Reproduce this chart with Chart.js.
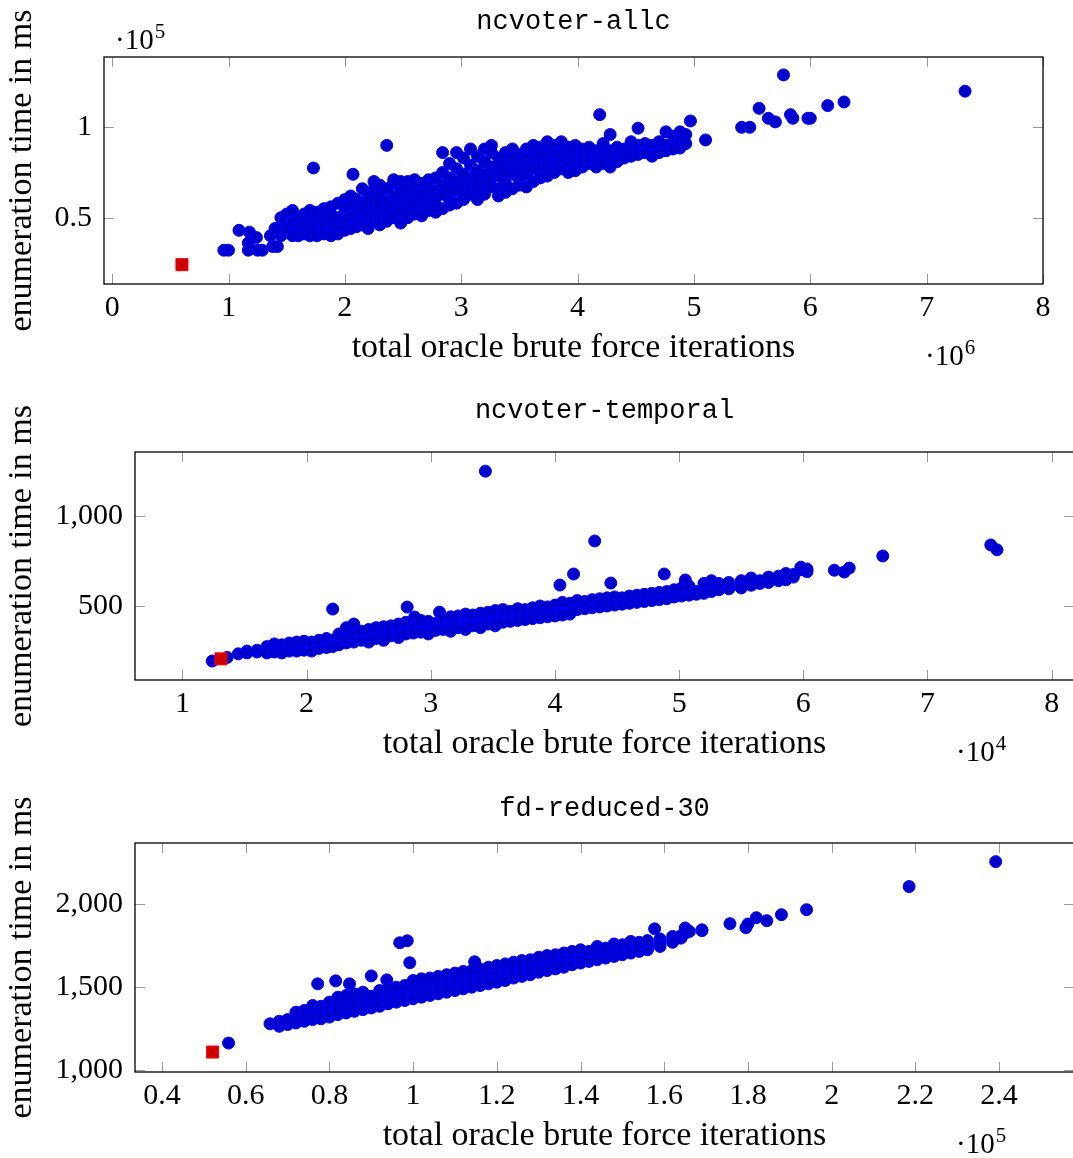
<!DOCTYPE html>
<html>
<head>
<meta charset="utf-8">
<script src="https://cdn.jsdelivr.net/npm/chart.js@4.4.1/dist/chart.umd.min.js"></script>
<style>
  html, body { margin: 0; padding: 0; background: #fff; width: 1073px; height: 1158px; overflow: hidden; position: relative; }
  canvas { position: absolute; left: 0; }
</style>
</head>
<body>
<canvas id="allc"></canvas>
<canvas id="temporal"></canvas>
<canvas id="fd30"></canvas>
<script>
// ---- ncvoter-allc : x in 10^6 iterations, y in 10^5 ms ----
const allcXTicks = [0, 1, 2, 3, 4, 5, 6, 7, 8];
const allcYTicks = [0.5, 1];
const allcRed = [[0.60, 0.24]];
const allcPoints = [
  [0.96,0.32],[1.00,0.32],[1.09,0.43],[1.18,0.42],[1.24,0.39],[1.17,0.36],[1.17,0.32],[1.25,0.32],[1.29,0.32],
  [1.36,0.40],[1.40,0.44],[1.38,0.34],[1.42,0.34],
  [1.45,0.40],[1.45,0.45],[1.45,0.50],[1.50,0.45],[1.50,0.42],[1.50,0.52],[1.55,0.54],[1.55,0.47],[1.55,0.40],
  [1.60,0.49],[1.60,0.44],[1.60,0.40],[1.65,0.46],[1.65,0.52],[1.65,0.41],[1.70,0.44],[1.70,0.50],[1.70,0.54],[1.70,0.40],
  [1.73,0.775],
  [1.76,0.53],[1.76,0.47],[1.76,0.43],[1.76,0.40],[1.82,0.51],[1.82,0.45],[1.82,0.55],[1.82,0.41],
  [1.88,0.48],[1.88,0.56],[1.88,0.43],[1.88,0.52],[1.88,0.40],[1.94,0.50],[1.94,0.45],[1.94,0.58],[1.94,0.41],
  [2.00,0.53],[2.00,0.47],[2.00,0.60],[2.00,0.43],[2.00,0.56],[2.05,0.50],[2.05,0.44],[2.05,0.62],[2.05,0.57],
  [2.07,0.74],
  [2.10,0.55],[2.10,0.48],[2.10,0.45],[2.10,0.60],[2.10,0.52],[2.15,0.58],[2.15,0.50],[2.15,0.46],[2.15,0.66],[2.15,0.54],
  [2.20,0.62],[2.20,0.52],[2.20,0.47],[2.20,0.57],[2.20,0.44],[2.25,0.60],[2.25,0.55],[2.25,0.49],[2.25,0.66],[2.25,0.70],
  [2.30,0.63],[2.30,0.57],[2.30,0.51],[2.30,0.46],[2.30,0.68],[2.36,0.66],[2.36,0.59],[2.36,0.53],[2.36,0.48],[2.36,0.90],
  [2.42,0.69],[2.42,0.62],[2.42,0.56],[2.42,0.50],[2.42,0.71],[2.48,0.64],[2.48,0.58],[2.48,0.53],[2.48,0.70],[2.48,0.47],
  [2.54,0.70],[2.54,0.61],[2.54,0.56],[2.54,0.66],[2.54,0.50],[2.60,0.71],[2.60,0.64],[2.60,0.58],[2.60,0.68],[2.60,0.52],
  [2.66,0.69],[2.66,0.63],[2.66,0.60],[2.66,0.55],[2.66,0.51],[2.72,0.71],[2.72,0.67],[2.72,0.62],[2.72,0.58],[2.72,0.54],
  [2.78,0.72],[2.78,0.65],[2.78,0.61],[2.78,0.57],[2.78,0.53],[2.84,0.75],[2.84,0.68],[2.84,0.63],[2.84,0.86],[2.84,0.55],
  [2.90,0.80],[2.90,0.72],[2.90,0.66],[2.90,0.60],[2.90,0.57],[2.96,0.77],[2.96,0.70],[2.96,0.65],[2.96,0.86],[2.96,0.58],
  [3.02,0.83],[3.02,0.74],[3.02,0.68],[3.02,0.62],[3.02,0.60],[3.08,0.79],[3.08,0.72],[3.08,0.67],[3.08,0.88],[3.08,0.63],
  [3.14,0.84],[3.14,0.76],[3.14,0.70],[3.14,0.65],[3.14,0.60],[3.20,0.81],[3.20,0.74],[3.20,0.69],[3.20,0.88],[3.20,0.63],
  [3.26,0.86],[3.26,0.78],[3.26,0.72],[3.26,0.67],[3.26,0.90],[3.32,0.83],[3.32,0.77],[3.32,0.73],[3.32,0.66],[3.32,0.62],
  [3.38,0.86],[3.38,0.80],[3.38,0.75],[3.38,0.69],[3.38,0.64],[3.44,0.82],[3.44,0.78],[3.44,0.74],[3.44,0.88],[3.44,0.66],
  [3.50,0.85],[3.50,0.80],[3.50,0.76],[3.50,0.71],[3.50,0.68],[3.56,0.88],[3.56,0.83],[3.56,0.78],[3.56,0.74],[3.56,0.67],
  [3.62,0.86],[3.62,0.81],[3.62,0.77],[3.62,0.90],[3.62,0.70],[3.68,0.89],[3.68,0.84],[3.68,0.79],[3.68,0.76],[3.68,0.72],
  [3.74,0.87],[3.74,0.82],[3.74,0.79],[3.74,0.92],[3.74,0.73],[3.80,0.90],[3.80,0.85],[3.80,0.81],[3.80,0.79],[3.80,0.75],
  [3.86,0.88],[3.86,0.84],[3.86,0.80],[3.86,0.77],[3.86,0.92],[3.92,0.89],[3.92,0.86],[3.92,0.82],[3.92,0.79],[3.92,0.75],
  [3.98,0.90],[3.98,0.87],[3.98,0.83],[3.98,0.80],[3.98,0.76],[4.04,0.88],[4.04,0.85],[4.04,0.82],[4.04,0.78],[4.04,0.80],
  [4.10,0.86],[4.10,0.83],[4.10,0.80],[4.10,0.89],[4.16,0.87],[4.16,0.84],[4.16,0.81],[4.16,0.78],
  [4.19,1.07],
  [4.22,0.85],[4.22,0.83],[4.22,0.80],[4.22,0.91],[4.28,0.96],[4.28,0.87],[4.28,0.84],[4.28,0.78],
  [4.34,0.89],[4.34,0.86],[4.34,0.83],[4.34,0.81],[4.40,0.88],[4.40,0.85],[4.40,0.83],[4.40,0.87],
  [4.46,0.92],[4.46,0.86],[4.46,0.84],[4.46,0.90],[4.52,0.995],[4.52,0.90],[4.52,0.87],[4.52,0.85],
  [4.58,0.88],[4.58,0.86],[4.58,0.91],[4.64,0.89],[4.64,0.84],[4.64,0.90],[4.70,0.92],[4.70,0.88],[4.70,0.86],
  [4.76,0.90],[4.76,0.87],[4.76,0.975],[4.82,0.95],[4.82,0.89],[4.82,0.88],[4.88,0.975],[4.88,0.93],[4.88,0.885],
  [4.93,0.96],[4.93,0.91],[4.97,1.035],
  [5.10,0.93],[5.41,1.00],[5.48,1.00],[5.56,1.105],[5.64,1.05],[5.70,1.03],[5.77,1.29],[5.83,1.07],[5.85,1.05],
  [5.98,1.05],[6.00,1.05],[6.15,1.12],[6.29,1.14],[7.33,1.20]
];

// ---- ncvoter-temporal : x in 10^4 iterations, y in ms ----
const temporalXTicks = [1, 2, 3, 4, 5, 6, 7, 8];
const temporalYTicks = [500, 1000];
const temporalRed = [[1.31, 207]];
const temporalPoints = [
  [1.24,195],[1.36,215],[1.45,235],[1.52,250],[1.52,240],[1.60,245],[1.60,255],
  [1.68,250],[1.68,275],[1.68,240],[1.74,290],[1.74,260],[1.74,245],[1.80,270],[1.80,255],[1.80,285],[1.80,240],
  [1.86,280],[1.86,260],[1.86,250],[1.86,295],[1.92,265],[1.92,300],[1.92,250],[1.92,280],
  [1.98,285],[1.98,270],[1.98,255],[1.98,305],[2.04,290],[2.04,270],[2.04,260],[2.04,300],[2.04,250],
  [2.10,295],[2.10,280],[2.10,265],[2.10,310],[2.16,300],[2.16,285],[2.16,270],[2.16,320],
  [2.21,483],[2.21,310],[2.21,290],[2.21,275],
  [2.26,330],[2.26,300],[2.26,285],[2.26,345],[2.32,340],[2.32,310],[2.32,295],[2.32,320],[2.32,380],
  [2.38,350],[2.38,320],[2.38,300],[2.38,400],[2.38,330],[2.44,345],[2.44,325],[2.44,310],[2.44,360],
  [2.50,355],[2.50,330],[2.50,315],[2.50,370],[2.50,300],[2.56,360],[2.56,340],[2.56,320],[2.56,380],
  [2.62,365],[2.62,345],[2.62,330],[2.62,385],[2.62,310],[2.68,370],[2.68,350],[2.68,335],[2.68,390],
  [2.74,380],[2.74,355],[2.74,340],[2.74,400],[2.74,325],[2.81,494],[2.80,385],[2.80,360],[2.80,345],[2.80,410],
  [2.87,439],[2.86,390],[2.86,370],[2.86,350],[2.92,395],[2.92,375],[2.92,355],[2.92,420],
  [2.98,400],[2.98,380],[2.98,360],[2.98,415],[2.98,345],[3.04,405],[3.04,385],[3.04,365],[3.07,466],
  [3.10,410],[3.10,390],[3.10,370],[3.10,430],[3.16,415],[3.16,395],[3.16,375],[3.16,440],[3.16,360],
  [3.22,420],[3.22,400],[3.22,380],[3.22,445],[3.28,425],[3.28,405],[3.28,385],[3.28,455],[3.28,370],
  [3.34,430],[3.34,410],[3.34,390],[3.34,450],[3.40,435],[3.40,415],[3.40,395],[3.40,460],[3.40,380],
  [3.44,1247],
  [3.46,440],[3.46,420],[3.46,400],[3.46,465],[3.52,445],[3.52,425],[3.52,405],[3.52,475],[3.52,390],
  [3.58,450],[3.58,430],[3.58,410],[3.58,480],[3.64,455],[3.64,435],[3.64,415],[3.64,470],
  [3.70,460],[3.70,440],[3.70,420],[3.70,485],[3.76,465],[3.76,445],[3.76,425],[3.76,480],
  [3.82,470],[3.82,450],[3.82,430],[3.82,490],[3.88,475],[3.88,455],[3.88,435],[3.88,500],
  [3.94,480],[3.94,460],[3.94,440],[3.94,495],[4.00,485],[4.00,465],[4.00,445],[4.00,505],
  [4.04,616],
  [4.06,490],[4.06,470],[4.06,450],[4.06,520],[4.12,495],[4.12,475],[4.12,455],[4.12,515],
  [4.15,677],
  [4.18,500],[4.18,480],[4.18,530],[4.24,505],[4.24,485],[4.24,525],[4.30,510],[4.30,490],[4.30,535],
  [4.32,860],
  [4.36,515],[4.36,495],[4.36,540],[4.42,520],[4.42,500],[4.42,545],[4.45,627],
  [4.48,525],[4.48,505],[4.48,550],[4.54,530],[4.54,510],[4.54,545],[4.60,535],[4.60,515],[4.60,555],
  [4.66,540],[4.66,520],[4.66,560],[4.72,545],[4.72,525],[4.72,565],[4.78,550],[4.78,530],[4.78,570],
  [4.84,555],[4.84,535],[4.84,575],[4.88,677],[4.90,560],[4.90,540],[4.90,580],
  [4.96,565],[4.96,550],[4.96,590],[5.02,570],[5.02,555],[5.02,600],[5.05,644],
  [5.08,575],[5.08,560],[5.08,610],[5.14,580],[5.14,565],[5.20,590],[5.20,570],[5.20,625],
  [5.26,600],[5.26,580],[5.26,640],[5.32,605],[5.32,590],[5.32,625],[5.40,610],[5.40,595],[5.40,630],
  [5.50,620],[5.50,640],[5.50,600],[5.58,630],[5.58,615],[5.58,655],[5.65,640],[5.65,625],
  [5.72,645],[5.72,630],[5.72,660],[5.80,650],[5.80,640],[5.80,665],[5.86,660],[5.86,680],[5.86,645],
  [5.92,675],[5.92,660],[5.98,700],[5.98,715],[6.03,690],[6.03,705],
  [6.25,698],[6.33,688],[6.37,710],[6.64,777],[7.51,838],[7.56,811]
];

// ---- fd-reduced-30 : x in 10^5 iterations, y in ms ----
const fdXTicks = [0.4, 0.6, 0.8, 1, 1.2, 1.4, 1.6, 1.8, 2, 2.2, 2.4];
const fdYTicks = [1000, 1500, 2000];
const fdRed = [[0.521, 1110]];
const fdPoints = [
  [0.559,1164],[0.658,1280],[0.68,1265],[0.68,1295],[0.70,1275],[0.70,1305],[0.70,1290],
  [0.72,1285],[0.72,1320],[0.72,1300],[0.72,1350],[0.74,1295],[0.74,1330],[0.74,1310],[0.74,1360],
  [0.76,1305],[0.76,1340],[0.76,1320],[0.76,1375],[0.76,1390],[0.772,1520],
  [0.78,1310],[0.78,1350],[0.78,1330],[0.78,1385],[0.80,1320],[0.80,1360],[0.80,1345],[0.80,1395],[0.80,1410],
  [0.815,1538],
  [0.82,1335],[0.82,1370],[0.82,1355],[0.82,1405],[0.82,1440],[0.84,1345],[0.84,1380],[0.84,1365],[0.84,1415],[0.84,1450],
  [0.848,1520],
  [0.86,1355],[0.86,1390],[0.86,1375],[0.86,1425],[0.86,1460],[0.88,1365],[0.88,1400],[0.88,1385],[0.88,1435],[0.88,1470],
  [0.90,1375],[0.90,1410],[0.90,1395],[0.90,1445],[0.90,1568],[0.92,1385],[0.92,1420],[0.92,1405],[0.92,1455],[0.92,1480],
  [0.937,1544],
  [0.94,1400],[0.94,1430],[0.94,1415],[0.94,1465],[0.94,1490],[0.96,1410],[0.96,1440],[0.96,1425],[0.96,1475],[0.96,1500],
  [0.968,1767],[0.986,1779],
  [0.98,1420],[0.98,1450],[0.98,1435],[0.98,1485],[0.98,1510],[0.992,1647],
  [1.00,1430],[1.00,1460],[1.00,1445],[1.00,1495],[1.00,1540],[1.02,1440],[1.02,1470],[1.02,1455],[1.02,1505],[1.02,1550],
  [1.04,1450],[1.04,1480],[1.04,1465],[1.04,1515],[1.04,1555],[1.06,1460],[1.06,1490],[1.06,1475],[1.06,1525],[1.06,1565],
  [1.08,1470],[1.08,1500],[1.08,1485],[1.08,1535],[1.08,1575],[1.10,1480],[1.10,1510],[1.10,1495],[1.10,1545],[1.10,1585],
  [1.12,1490],[1.12,1520],[1.12,1505],[1.12,1555],[1.12,1595],[1.147,1653],
  [1.14,1500],[1.14,1530],[1.14,1515],[1.14,1565],[1.14,1600],[1.16,1510],[1.16,1540],[1.16,1525],[1.16,1575],[1.16,1610],
  [1.18,1520],[1.18,1550],[1.18,1535],[1.18,1585],[1.18,1620],[1.20,1530],[1.20,1560],[1.20,1545],[1.20,1595],[1.20,1630],
  [1.22,1540],[1.22,1570],[1.22,1555],[1.22,1605],[1.22,1640],[1.24,1555],[1.24,1585],[1.24,1570],[1.24,1620],[1.24,1650],
  [1.26,1565],[1.26,1595],[1.26,1580],[1.26,1630],[1.26,1660],[1.28,1575],[1.28,1605],[1.28,1590],[1.28,1640],[1.28,1665],
  [1.30,1590],[1.30,1620],[1.30,1605],[1.30,1655],[1.30,1680],[1.32,1600],[1.32,1630],[1.32,1615],[1.32,1665],[1.32,1690],
  [1.34,1610],[1.34,1640],[1.34,1625],[1.34,1675],[1.34,1695],[1.36,1620],[1.36,1655],[1.36,1640],[1.36,1685],[1.36,1705],
  [1.38,1635],[1.38,1665],[1.38,1650],[1.38,1695],[1.38,1715],[1.40,1645],[1.40,1675],[1.40,1660],[1.40,1705],[1.40,1725],
  [1.42,1655],[1.42,1685],[1.42,1670],[1.42,1715],[1.44,1665],[1.44,1695],[1.44,1680],[1.44,1725],[1.44,1745],
  [1.46,1675],[1.46,1705],[1.46,1690],[1.46,1735],[1.48,1685],[1.48,1715],[1.48,1700],[1.48,1745],[1.48,1760],
  [1.50,1695],[1.50,1725],[1.50,1710],[1.50,1755],[1.52,1705],[1.52,1735],[1.52,1720],[1.52,1765],[1.52,1775],
  [1.54,1715],[1.54,1745],[1.54,1730],[1.54,1770],[1.56,1725],[1.56,1755],[1.56,1740],[1.56,1780],
  [1.577,1851],[1.59,1790],[1.59,1765],[1.59,1745],[1.62,1785],[1.62,1805],[1.62,1770],[1.64,1810],[1.64,1795],
  [1.65,1856],[1.65,1825],[1.66,1835],[1.69,1840],[1.69,1845],
  [1.757,1882],[1.795,1858],[1.80,1880],[1.82,1918],[1.845,1900],[1.88,1936],[1.94,1966],[2.185,2105],[2.392,2255]
];

// panel geometry (pixels), kept apart from the data
// the two lower panels run slightly past the right edge of the page, as in the original
const panels = [
  { id: 'allc', title: 'ncvoter-allc', top: 0, padTop: 57, plotH: 227, yAxisW: 104, canvasW: 1076, padRight: 33, titleGap: 28,
    pts: allcPoints, red: allcRed, xTicks: allcXTicks, yTicks: allcYTicks,
    xMin: -0.07, xMax: 8, yMin: 0.133, yMax: 1.389, xExp: '6', yExp: '5' },
  { id: 'temporal', title: 'ncvoter-temporal', top: 390, padTop: 62, plotH: 228, yAxisW: 135, canvasW: 1086, padRight: 12, titleGap: 34,
    pts: temporalPoints, red: temporalRed, xTicks: temporalXTicks, yTicks: temporalYTicks,
    xMin: 0.618, xMax: 8.18, yMin: 90, yMax: 1353, xExp: '4', yExp: null },
  { id: 'fd30', title: 'fd-reduced-30', top: 781, padTop: 62, plotH: 229, yAxisW: 135, canvasW: 1086, padRight: 12, titleGap: 27,
    pts: fdPoints, red: fdRed, xTicks: fdXTicks, yTicks: fdYTicks,
    xMin: 0.3355, xMax: 2.579, yMin: 990, yMax: 2367, xExp: '5', yExp: null }
];

const SERIF = '"Liberation Serif", "Times New Roman", serif';
const X_AXIS_H = 101;

function power(ctx, x, y, exp) {
  ctx.textAlign = 'left';
  ctx.textBaseline = 'alphabetic';
  ctx.font = '29px ' + SERIF;
  ctx.fillText('\u00b710', x, y);
  const w = ctx.measureText('\u00b710').width;
  ctx.font = '21px ' + SERIF;
  ctx.fillText(exp, x + w + 1, y - 11);
}

const frame = {
  id: 'frame',
  afterDraw(chart, args, o) {
    const { ctx, chartArea: a, scales: { x, y } } = chart;
    ctx.save();
    ctx.strokeStyle = '#9a9a9a';
    ctx.lineWidth = 1;
    ctx.beginPath();
    x.ticks.forEach(t => {
      const px = Math.round(x.getPixelForValue(t.value)) + 0.5;
      ctx.moveTo(px, a.bottom); ctx.lineTo(px, a.bottom - 10);
      ctx.moveTo(px, a.top); ctx.lineTo(px, a.top + 10);
    });
    y.ticks.forEach(t => {
      const py = Math.round(y.getPixelForValue(t.value)) + 0.5;
      ctx.moveTo(a.left, py); ctx.lineTo(a.left + 10, py);
      ctx.moveTo(a.right, py); ctx.lineTo(a.right - 10, py);
    });
    ctx.stroke();
    ctx.strokeStyle = '#000';
    ctx.lineWidth = 1.3;
    ctx.strokeRect(a.left, a.top, a.width, a.height);
    ctx.fillStyle = '#000';
    ctx.font = '27px "Liberation Mono", "DejaVu Sans Mono", monospace';
    ctx.textAlign = 'center';
    ctx.textBaseline = 'alphabetic';
    ctx.fillText(o.title, (a.left + a.right) / 2, a.top - o.titleGap);
    power(ctx, a.right - 118, a.bottom + 81, o.xExp);
    if (o.yExp) power(ctx, a.left + 11, a.top - 8, o.yExp);
    ctx.restore();
  }
};

Chart.defaults.color = '#000';
Chart.defaults.font.family = SERIF;

panels.forEach(p => {
  const cv = document.getElementById(p.id);
  const h = p.padTop + p.plotH + X_AXIS_H;
  cv.width = p.canvasW; cv.height = h;
  cv.style.top = p.top + 'px';
  cv.style.width = p.canvasW + 'px'; cv.style.height = h + 'px';
  const fmt = v => Number(v).toLocaleString('en-US');
  new Chart(cv, {
    type: 'scatter',
    data: {
      datasets: [
        { data: p.red, pointStyle: 'rect', pointRadius: 8.5, pointBackgroundColor: '#cc0000',
          pointBorderColor: '#ff0000', pointBorderWidth: 1 },
        { data: p.pts, pointStyle: 'circle', pointRadius: 6, pointBackgroundColor: '#0000cc',
          pointBorderColor: '#0000ff', pointBorderWidth: 1 }
      ]
    },
    options: {
      responsive: false,
      animation: false,
      events: [],
      layout: { padding: { top: p.padTop, right: p.padRight, left: 0, bottom: 0 } },
      plugins: {
        legend: { display: false },
        tooltip: { enabled: false },
        frame: { title: p.title, titleGap: p.titleGap, xExp: p.xExp, yExp: p.yExp }
      },
      scales: {
        x: {
          type: 'linear', min: p.xMin, max: p.xMax,
          grid: { display: false, drawTicks: false },
          border: { display: false },
          afterBuildTicks: s => { s.ticks = p.xTicks.map(v => ({ value: v })); },
          afterFit: s => { s.height = X_AXIS_H; },
          ticks: { autoSkip: false, maxRotation: 0, padding: 6, font: { size: 30 }, callback: fmt },
          title: { display: true, text: 'total oracle brute force iterations', font: { size: 34 },
                   padding: { top: 0, bottom: 16.6 } }
        },
        y: {
          type: 'linear', min: p.yMin, max: p.yMax,
          grid: { display: false, drawTicks: false },
          border: { display: false },
          afterBuildTicks: s => { s.ticks = p.yTicks.map(v => ({ value: v })); },
          afterFit: s => { s.width = p.yAxisW; },
          ticks: { autoSkip: false, padding: 12, font: { size: 30 }, callback: fmt },
          title: { display: true, text: 'enumeration time in ms', font: { size: 34 },
                   padding: { top: 2, bottom: 0 } }
        }
      }
    },
    plugins: [frame]
  });
});
</script>
</body>
</html>
